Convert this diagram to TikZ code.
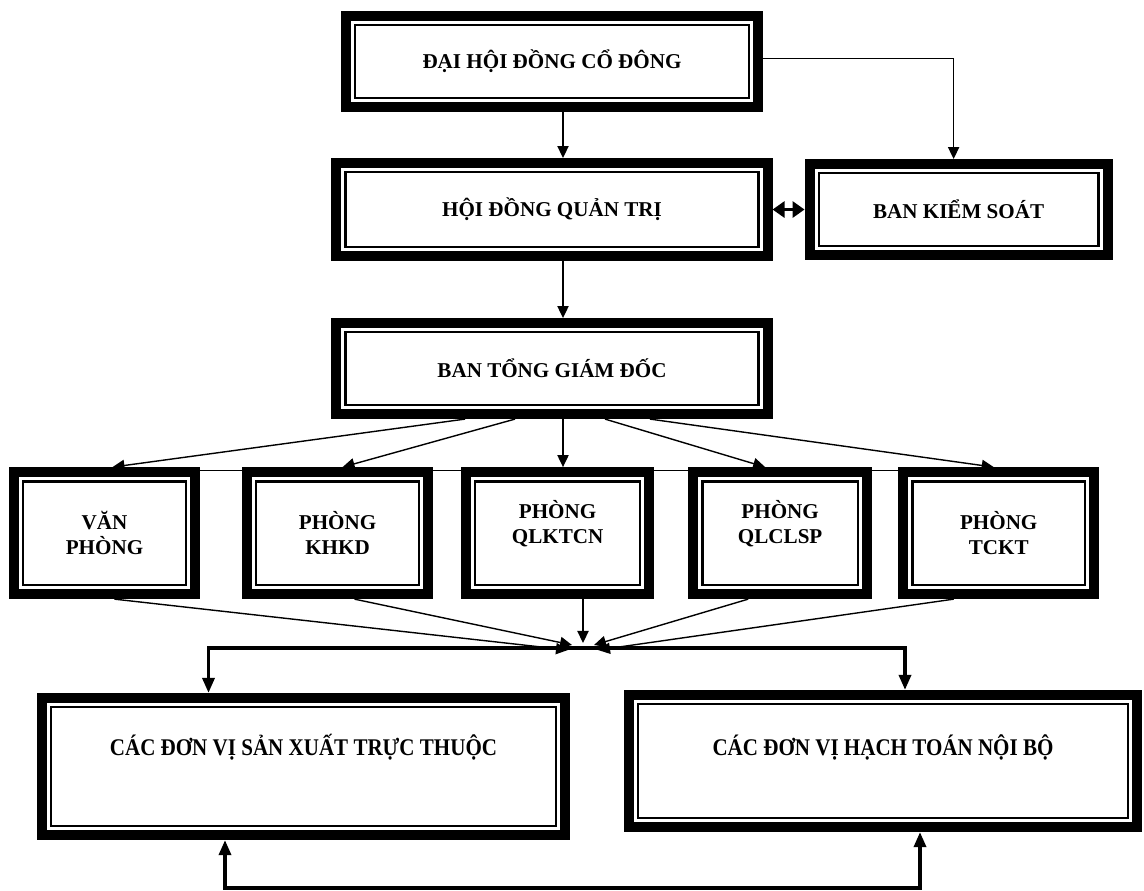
\documentclass[tikz,border=0pt]{standalone}
\usepackage{fontspec}
\setmainfont{Liberation Serif}
\newfontfamily\narrowserif{Liberation Serif}[FakeStretch=0.88]
\usetikzlibrary{positioning,arrows.meta}

\begin{document}
\begin{tikzpicture}[x=0.025cm, y=-0.025cm,
  box/.style={draw, line width=0.25cm, fill=white, inner sep=0pt, align=center,
    font=\bfseries\fontsize{15}{18}\selectfont,
    path picture={\draw[line width=0.06cm]
      ([shift={(0.23cm,0.23cm)}]path picture bounding box.south west) rectangle
      ([shift={(-0.23cm,-0.23cm)}]path picture bounding box.north east);}},
  wh/.style 2 args={minimum width=#1cm, minimum height=#2cm},
  high/.style={text depth=0.55cm},
  low/.style 2 args={font=\narrowserif\bfseries\fontsize{17}{20}\selectfont,
    text height=#1cm, text depth=#2cm},
  conn/.style={line width=0.035cm, -{Triangle[length=0.3cm,width=0.28cm]}},
  fat/.style={line width=0.09cm, line join=miter},
  fatend/.style={-{Triangle[length=0.38cm,width=0.3cm]}},
  fatboth/.style={{Triangle[length=0.38cm,width=0.3cm]}-{Triangle[length=0.38cm,width=0.3cm]}},
  twin/.style={line width=0.08cm, {Triangle[length=0.3cm,width=0.4cm]}-{Triangle[length=0.3cm,width=0.4cm]}}]
  \useasboundingbox (0,0) rectangle (1144,891);
  % governing bodies
  \node[box, wh={10.3}{2.275}] (dhdcd) at (552,61.5) {ĐẠI HỘI ĐỒNG CỔ ĐÔNG};
  \node[box, wh={10.775}{2.325}, below=1.15cm of dhdcd] (hdqt) {HỘI ĐỒNG QUẢN TRỊ};
  \node[box, wh={7.45}{2.275}, right=0.8cm of hdqt] (bks) {BAN KIỂM SOÁT};
  \node[box, wh={10.775}{2.275}, below=1.425cm of hdqt] (btgd) {BAN TỔNG GIÁM ĐỐC};
  % row of departments
  \node[box, high, wh={4.575}{3.05}, below=1.2cm of btgd, xshift=0.14cm] (qlktcn) {PHÒNG\\QLKTCN};
  \node[box, wh={4.525}{3.05}, left=0.7cm of qlktcn] (khkd) {PHÒNG\\KHKD};
  \node[box, wh={4.525}{3.05}, left=1.05cm of khkd] (vp) {VĂN\\PHÒNG};
  \node[box, high, wh={4.35}{3.05}, right=0.85cm of qlktcn] (qlclsp) {PHÒNG\\QLCLSP};
  \node[box, wh={4.775}{3.05}, right=0.65cm of qlclsp] (tckt) {PHÒNG\\TCKT};
  % units at the bottom
  \node[box, low={1.425}{2.0}, wh={13.075}{3.425}] (cdvsx) at (303.5,766.5) {CÁC ĐƠN VỊ SẢN XUẤT TRỰC THUỘC};
  \node[box, low={1.5}{1.8}, wh={12.7}{3.3}] (htnb) at (883,761) {CÁC ĐƠN VỊ HẠCH TOÁN NỘI BỘ};
  \coordinate (spine) at (563,0);
  \coordinate (hub) at (583,648);
  \coordinate (fbl) at (225,888);
  \coordinate (fbr) at (920,888);
  \draw[conn] (dhdcd.south -| spine) -- (hdqt.north -| spine);
  \draw[conn] ([shift={(0,-3)}]dhdcd.east) -| ([shift={(-5,0)}]bks.north);
  \draw[twin] (hdqt) -- (bks);
  \draw[conn] (hdqt.south -| spine) -- (btgd.north -| spine);
  % fan out to the departments
  \draw[line width=0.02cm] ([shift={(0,3)}]vp.north) -- ([shift={(0,3)}]tckt.north);
  \draw[conn] ([shift={(-87,0)}]btgd.south) -- ([shift={(8,0)}]vp.north);
  \draw[conn] ([shift={(-37,0)}]btgd.south) -- ([shift={(5,0)}]khkd.north);
  \draw[conn] (btgd.south -| spine) -- (qlktcn.north -| spine);
  \draw[conn] ([shift={(53,0)}]btgd.south) -- ([shift={(-15,0)}]qlclsp.north);
  \draw[conn] ([shift={(98,0)}]btgd.south) -- ([shift={(-5,0)}]tckt.north);
  % departments converge on the hub
  \draw[conn] ([shift={(10,0)}]vp.south) -- ([shift={(-15,2)}]hub);
  \draw[conn] ([shift={(17,0)}]khkd.south) -- ([shift={(-11,-3)}]hub);
  \draw[conn] (qlktcn.south -| hub) -- ([shift={(0,-5)}]hub);
  \draw[conn] ([shift={(-32,0)}]qlclsp.south) -- ([shift={(11,-3)}]hub);
  \draw[conn] ([shift={(-45,0)}]tckt.south) -- ([shift={(15,2)}]hub);
  \draw[fat, fatend] (hub) -| ([shift={(-95,0)}]cdvsx.north);
  \draw[fat, fatend] (hub) -| ([shift={(22,0)}]htnb.north);
  \draw[fat, fatboth] (fbl |- cdvsx.south) -- (fbl) -- (fbr) -- (fbr |- htnb.south);
\end{tikzpicture}
\end{document}
